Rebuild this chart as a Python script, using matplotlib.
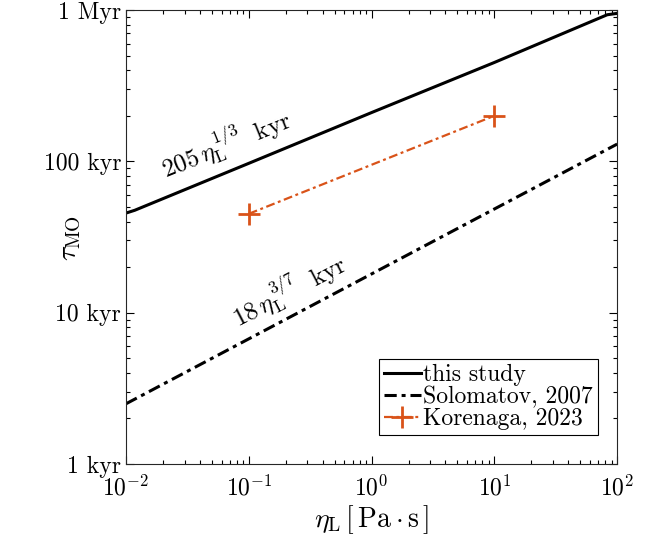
import matplotlib
matplotlib.use('Agg')
import matplotlib.pyplot as plt

plt.rcParams['font.family'] = 'serif'
plt.rcParams['font.serif'] = ['cmr10']
plt.rcParams['mathtext.fontset'] = 'cm'
plt.rcParams['axes.formatter.use_mathtext'] = True

# viscosity of liquid [Pa s] and solidification time [yr]
eta_this = [0.01, 0.0118, 0.1, 1, 10, 83, 100]
tau_this = [45.5e3, 47.5e3, 97e3, 210e3, 450e3, 930e3, 950e3]

eta_solo = [0.01, 100]
tau_solo = [2.5e3, 130e3]

eta_kore = [0.1, 10]
tau_kore = [45e3, 200e3]

xticks = [1e-2, 1e-1, 1e0, 1e1, 1e2]
xticklabels = [r'$10^{-2}$', r'$10^{-1}$', r'$10^{0}$', r'$10^{1}$', r'$10^{2}$']
yticks = [1e3, 1e4, 1e5, 1e6]
yticklabels = ['1 kyr', '10 kyr', '100 kyr', '1 Myr']

orange = '#D95319'
dashdot = (4, 1.6, 1.3, 1.6)

fig = plt.figure(figsize=(6.51, 5.4), dpi=100)
ax = fig.add_axes([0.1935, 0.1407, 0.7545, 0.8408])

ax.plot(eta_this, tau_this, '-', color='k', lw=2.2, label='this study')
ax.plot(eta_solo, tau_solo, color='k', lw=2.2, dashes=dashdot, label='Solomatov, 2007')
ax.plot(eta_kore, tau_kore, color=orange, lw=1.6, dashes=dashdot, marker='+',
        markersize=16, markeredgewidth=2, label='Korenaga, 2023')

ax.set_xscale('log')
ax.set_yscale('log')
ax.set_xlim(1e-2, 1e2)
ax.set_ylim(1e3, 1e6)
ax.set_xticks(xticks)
ax.set_xticklabels(xticklabels)
ax.set_yticks(yticks)
ax.set_yticklabels(yticklabels)

ax.tick_params(which='both', direction='in', top=True, right=True, labelsize=17)
ax.tick_params(axis='x', which='major', pad=8)
ax.tick_params(which='major', length=6, width=0.8)
ax.tick_params(which='minor', length=3, width=0.8)
for s in ax.spines.values():
    s.set_linewidth(0.8)
    s.set_color('#262626')

ax.set_xlabel(r'$\eta_{\rm L}\,[\,{\rm Pa}\cdot{\rm s}\,]$', fontsize=20, labelpad=2)
ax.set_ylabel(r'$\tau_{\rm MO}$', fontsize=20)
ax.yaxis.set_label_coords(-0.088, 0.498)

ax.text(0.0653, 1.32e5, r'$205\,\eta_{\rm L}^{\,1/3}\;$ kyr', fontsize=18,
        rotation=22, ha='center', va='center', rotation_mode='anchor')
ax.text(0.213, 1.41e4, r'$18\,\eta_{\rm L}^{\,3/7}\;$ kyr', fontsize=18,
        rotation=27.5, ha='center', va='center', rotation_mode='anchor')

leg = ax.legend(loc='lower right', bbox_to_anchor=(0.96, 0.064), borderaxespad=0,
                fontsize=17, fancybox=False, framealpha=1, edgecolor='k',
                handlelength=1.55, handletextpad=0.1, borderpad=0.2, labelspacing=0.0)
leg.get_frame().set_linewidth(0.8)

fig.savefig('out.png', dpi=100)
